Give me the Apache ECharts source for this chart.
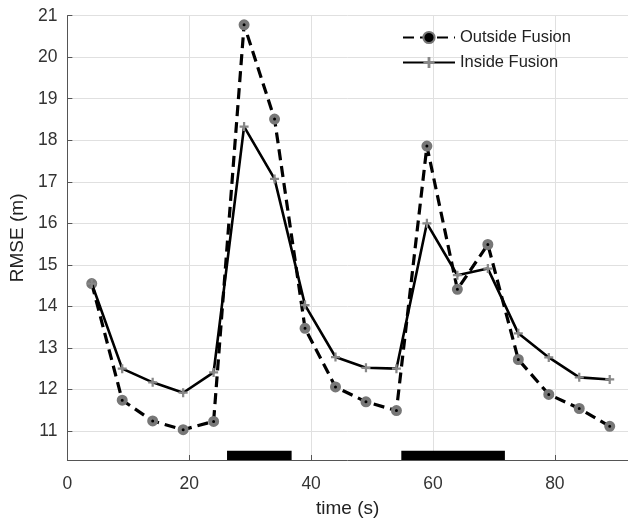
<!DOCTYPE html>
<html><head><meta charset="utf-8">
<script src="https://cdn.jsdelivr.net/npm/echarts@6/dist/echarts.min.js"></script>
<style>html,body{margin:0;padding:0;background:#fff}#c{width:628px;height:523px}</style>
</head><body><div id="c"></div>
<script>
const times = [4, 9, 14, 19, 24, 29, 34, 39, 44, 49, 54, 59, 64, 69, 74, 79, 84, 89];
const outsideFusion = [14.55, 11.74, 11.24, 11.03, 11.23, 20.78, 18.51, 13.47, 12.06, 11.70, 11.49, 17.86, 14.41, 15.49, 12.72, 11.88, 11.54, 11.11];
const insideFusion = [14.55, 12.50, 12.17, 11.92, 12.41, 18.33, 17.07, 14.03, 12.78, 12.52, 12.50, 16.00, 14.75, 14.91, 13.35, 12.77, 12.29, 12.24];
const fusionIntervals = [[26.2, 36.8], [54.8, 71.8]];
const yTicks = [11, 12, 13, 14, 15, 16, 17, 18, 19, 20, 21];
const xTicks = [0, 20, 40, 60, 80];

const yMin = 10.3, yMax = 21, xMax = 92;
const font = 'Liberation Sans, Arial, sans-serif';
const plus = 'path://M-1,-4L1,-4L1,-1L4,-1L4,1L1,1L1,4L-1,4L-1,1L-4,1L-4,-1L-1,-1Z';

const chart = echarts.init(document.getElementById('c'), null, {renderer: 'canvas'});
chart.setOption({
  animation: false,
  backgroundColor: '#fff',
  grid: {left: 65, right: -2, top: 15.7, bottom: 63, containLabel: false},
  legend: {
    left: 397, top: 24, orient: 'vertical', itemGap: 8, itemWidth: 52, itemHeight: 14,
    textStyle: {fontFamily: font, fontSize: 16.5, color: '#222'},
    data: ['Outside Fusion', 'Inside Fusion']
  },
  xAxis: {
    type: 'value', min: 0, max: xMax,
    name: 'time (s)', nameLocation: 'middle', nameGap: 39,
    nameTextStyle: {fontFamily: font, fontSize: 19, color: '#222'},
    axisLine: {lineStyle: {color: '#555', width: 1}},
    axisTick: {inside: true, length: 5, customValues: xTicks, lineStyle: {color: '#555'}},
    axisLabel: {customValues: xTicks, fontFamily: font, fontSize: 17.5, color: '#333', margin: 15},
    splitLine: {show: true, lineStyle: {color: '#e0e0e0', width: 1}}
  },
  yAxis: {
    type: 'value', min: yMin, max: yMax,
    name: 'RMSE (m)', nameLocation: 'middle', nameGap: 39, nameRotate: 90,
    nameTextStyle: {fontFamily: font, fontSize: 19, color: '#222'},
    axisLine: {show: true, lineStyle: {color: '#555', width: 1}},
    axisTick: {show: true, inside: true, length: 5, customValues: yTicks, lineStyle: {color: '#555'}},
    axisLabel: {customValues: yTicks, fontFamily: font, fontSize: 17.5, color: '#333', margin: 10},
    splitLine: {show: true, lineStyle: {color: '#e0e0e0', width: 1}}
  },
  series: [
    {
      name: 'Outside Fusion', type: 'line',
      data: times.map((t, i) => [t, outsideFusion[i]]),
      lineStyle: {color: '#000', width: 3.2, type: [11, 6]},
      symbol: 'circle', symbolSize: 7,
      itemStyle: {color: '#000', borderColor: '#777', borderWidth: 4},
      z: 3,
      markArea: {
        silent: true,
        itemStyle: {color: '#000'},
        data: fusionIntervals.map(r => [{coord: [r[0], yMin]}, {coord: [r[1], yMin + 0.22]}])
      }
    },
    {
      name: 'Inside Fusion', type: 'line',
      data: times.map((t, i) => [t, insideFusion[i]]),
      lineStyle: {color: '#000', width: 2.6},
      symbol: plus, symbolSize: 9,
      itemStyle: {color: '#888', borderWidth: 0},
      z: 4
    }
  ]
});
</script>
</body></html>
